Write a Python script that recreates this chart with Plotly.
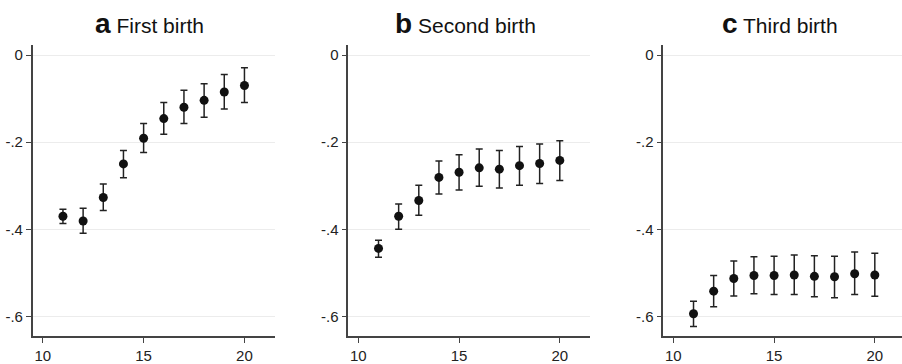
import plotly.graph_objects as go

# ---- data ----
x_vals = [11, 12, 13, 14, 15, 16, 17, 18, 19, 20]

first_est = [-0.370, -0.381, -0.327, -0.250, -0.191, -0.146, -0.120, -0.104, -0.085, -0.070]
first_lo = [-0.387, -0.409, -0.357, -0.282, -0.224, -0.182, -0.157, -0.143, -0.124, -0.109]
first_hi = [-0.354, -0.352, -0.296, -0.219, -0.157, -0.109, -0.081, -0.066, -0.045, -0.029]

second_est = [-0.444, -0.370, -0.334, -0.281, -0.269, -0.259, -0.262, -0.254, -0.249, -0.242]
second_lo = [-0.464, -0.400, -0.368, -0.319, -0.310, -0.301, -0.305, -0.299, -0.295, -0.288]
second_hi = [-0.425, -0.342, -0.299, -0.243, -0.229, -0.216, -0.219, -0.210, -0.204, -0.197]

third_est = [-0.594, -0.542, -0.513, -0.506, -0.506, -0.505, -0.508, -0.509, -0.502, -0.505]
third_lo = [-0.623, -0.578, -0.553, -0.548, -0.550, -0.550, -0.555, -0.557, -0.550, -0.554]
third_hi = [-0.565, -0.506, -0.473, -0.463, -0.462, -0.459, -0.461, -0.462, -0.452, -0.455]

panel_letters = ["a", "b", "c"]
panel_titles = ["First birth", "Second birth", "Third birth"]

y_tickvals = [0, -0.2, -0.4, -0.6]
y_ticktext = ["0", "-.2", "-.4", "-.6"]
x_tickvals = [10, 15, 20]
x_ticktext = ["10", "15", "20"]

# ---- figure ----
W, H = 902, 364
series = [(first_est, first_lo, first_hi), (second_est, second_lo, second_hi),
          (third_est, third_lo, third_hi)]
x_domains = [[32.7 / W, 274.7 / W], [348.3 / W, 590.0 / W], [663.3 / W, 1.0]]
x_ranges = [[9.5, 21.5], [9.5, 21.5], [9.5, 21.35]]
title_x = [149 / W, 465 / W, 780 / W]

axis_color = "#444444"
font_family = "Liberation Sans, Arial, sans-serif"

fig = go.Figure()
for i, (est, lo, hi) in enumerate(series):
    xa = "x" if i == 0 else f"x{i+1}"
    ya = "y" if i == 0 else f"y{i+1}"
    fig.add_trace(go.Scatter(
        x=x_vals, y=est, mode="markers",
        marker=dict(color="#111111", size=9),
        error_y=dict(type="data", symmetric=False,
                     array=[h - e for h, e in zip(hi, est)],
                     arrayminus=[e - l for e, l in zip(est, lo)],
                     color="#222222", thickness=1.5, width=3.5),
        xaxis=xa, yaxis=ya, showlegend=False,
    ))
    xkey = "xaxis" if i == 0 else f"xaxis{i+1}"
    ykey = "yaxis" if i == 0 else f"yaxis{i+1}"
    fig.layout[xkey] = dict(
        domain=x_domains[i], range=x_ranges[i], anchor=ya,
        tickvals=x_tickvals, ticktext=x_ticktext,
        showline=True, linecolor=axis_color, linewidth=1.5,
        ticks="outside", ticklen=5, tickcolor=axis_color, tickwidth=1.2,
        showgrid=False, zeroline=False,
        tickfont=dict(size=15, color="#222222", family=font_family),
    )
    fig.layout[ykey] = dict(
        domain=[0, 1], range=[-0.645, 0.023], anchor=xa,
        tickvals=y_tickvals, ticktext=y_ticktext,
        showline=True, linecolor=axis_color, linewidth=1.5,
        ticks="outside", ticklen=5, tickcolor=axis_color, tickwidth=1.2,
        showgrid=True, gridcolor="#ececec", gridwidth=1, zeroline=False,
        tickfont=dict(size=15, color="#222222", family=font_family),
    )
    fig.add_annotation(
        x=title_x[i], y=1, xref="paper", yref="paper",
        xanchor="center", yanchor="middle", yshift=22, showarrow=False,
        text=f'<span style="font-size:28px"><b>{panel_letters[i]}</b></span> {panel_titles[i]}',
        font=dict(size=21, color="#111111", family=font_family),
    )

fig.update_layout(
    width=W, height=H,
    margin=dict(l=0, r=0, t=45, b=24),
    paper_bgcolor="white", plot_bgcolor="white",
    font=dict(family=font_family),
)

fig.write_html("out.html")
